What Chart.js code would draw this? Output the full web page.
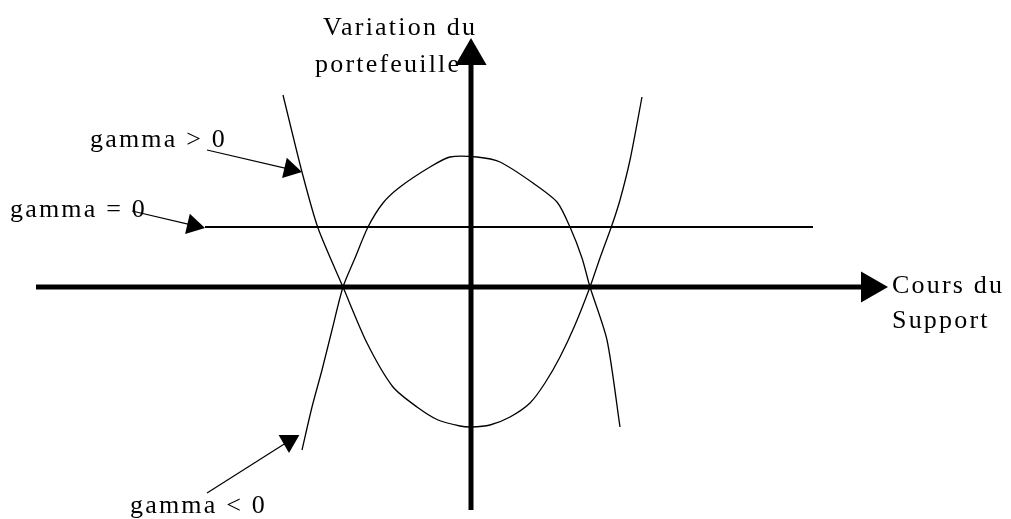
<!DOCTYPE html>
<html>
<head>
<meta charset="utf-8">
<title>Gamma</title>
<script src="https://cdn.jsdelivr.net/npm/chart.js@4.4.0/dist/chart.umd.min.js"></script>
<style>
    html, body { margin: 0; padding: 0; background: #fff; }
    #wrap { width: 1011px; height: 519px; position: relative; }
</style>
</head>
<body>
<div id="wrap"><canvas id="gamma"></canvas></div>
<script>
    "use strict";

    // Data (x = cours du support, y = variation du portefeuille, origin at the axes crossing)
    var posX = [-18.8, -16.9, -15.3, -12.8, -10.4, -7.8, -5.4, -3.3, -1.1, 0, 1.9, 3.9, 5.9, 7.4, 8.9, 10.4, 11.9, 12.9, 14.1, 14.9, 15.9, 17.1];
    var posY = [19.2, 11.5, 5.9, 0, -5.6, -10.0, -12.0, -13.3, -13.9, -14.0, -13.8, -13.0, -11.6, -9.6, -7.0, -3.8, 0, 2.9, 6.2, 8.7, 12.7, 19.0];

    var negX = [-16.9, -15.9, -14.9, -13.9, -12.8, -11.6, -10.3, -8.8, -7.1, -4.1, -2.1, 0.6, 2.9, 6.2, 8.6, 9.9, 11.1, 11.9, 13.6, 14.9];
    var negY = [-16.3, -12.0, -8.3, -4.3, 0, 2.9, 6.0, 8.4, 10.0, 12.0, 13.0, 13.0, 12.5, 10.4, 8.5, 6.0, 2.9, 0, -5.3, -14.0];

    var zeroX = [-26.6, 34.2];
    var zeroY = [6.0, 6.0];

    var axisX = [-43.5, 39.9];
    var axisY = [-22.3, 23.1];

    // label arrows: [start, head]
    var arrowPosX = [-26.4, -18.07];
    var arrowPosY = [13.7, 11.77];
    var arrowZeroX = [-33.9, -27.77];
    var arrowZeroY = [7.6, 6.17];
    var arrowNegX = [-26.4, -18.2];
    var arrowNegY = [-20.6, -15.4];

    var labelTexts = ["Variation du", "portefeuille", "gamma > 0", "gamma = 0", "gamma < 0", "Cours du", "Support"];
    var labelX = [-14.8, -15.6, -38.1, -46.1, -34.1, 42.1, 42.1];
    var labelY = [25.2, 21.5, 14.0, 7.0, -22.6, -0.6, -4.1];

    function pts(xs, ys) {
        return xs.map(function (x, i) { return {x: x, y: ys[i]}; });
    }

    // Text labels
    var labelsPlugin = {
        id: "labels",
        afterDatasetsDraw: function (chart) {
            var ctx = chart.ctx;
            var sx = chart.scales.x, sy = chart.scales.y;
            ctx.save();
            ctx.fillStyle = "#000";
            ctx.font = "26px 'Liberation Serif', 'Times New Roman', serif";
            ctx.letterSpacing = "2.2px";
            ctx.textAlign = "left";
            ctx.textBaseline = "alphabetic";
            labelTexts.forEach(function (t, i) {
                ctx.fillText(t, sx.getPixelForValue(labelX[i]), sy.getPixelForValue(labelY[i]));
            });
            ctx.restore();
        }
    };

    var ctx = document.getElementById("gamma").getContext("2d");
    var myChart = new Chart(ctx, {
        type: "scatter",
        data: {
            datasets: [{
                label: "gamma > 0",
                data: pts(posX, posY),
                showLine: true,
                borderWidth: 1.3,
                tension: 0.25,
                borderColor: "#000",
                pointRadius: 0
            }, {
                label: "gamma < 0",
                data: pts(negX, negY),
                showLine: true,
                borderWidth: 1.3,
                tension: 0.25,
                borderColor: "#000",
                pointRadius: 0
            }, {
                label: "gamma = 0",
                data: pts(zeroX, zeroY),
                showLine: true,
                borderWidth: 2,
                borderColor: "#000",
                pointRadius: 0
            }, {
                label: "Cours du Support",
                data: pts(axisX, [0, 0]),
                showLine: true,
                borderWidth: 5,
                borderColor: "#000",
                backgroundColor: "#000",
                pointStyle: "triangle",
                pointRadius: [0, 18],
                pointRotation: 90,
                pointBorderWidth: 0
            }, {
                label: "Variation du portefeuille",
                data: pts([0, 0], axisY),
                showLine: true,
                borderWidth: 5,
                borderColor: "#000",
                backgroundColor: "#000",
                pointStyle: "triangle",
                pointRadius: [0, 18],
                pointRotation: 0,
                pointBorderWidth: 0
            }, {
                label: "arrow >",
                data: pts(arrowPosX, arrowPosY),
                showLine: true,
                borderWidth: 1.2,
                borderColor: "#000",
                backgroundColor: "#000",
                pointStyle: "triangle",
                pointRadius: [0, 12],
                pointRotation: 103,
                pointBorderWidth: 0
            }, {
                label: "arrow =",
                data: pts(arrowZeroX, arrowZeroY),
                showLine: true,
                borderWidth: 1.2,
                borderColor: "#000",
                backgroundColor: "#000",
                pointStyle: "triangle",
                pointRadius: [0, 12],
                pointRotation: 103,
                pointBorderWidth: 0
            }, {
                label: "arrow <",
                data: pts(arrowNegX, arrowNegY),
                showLine: true,
                borderWidth: 1.2,
                borderColor: "#000",
                backgroundColor: "#000",
                pointStyle: "triangle",
                pointRadius: [0, 12],
                pointRotation: 180,
                pointBorderWidth: 0
            }]
        },
        options: {
            responsive: true,
            maintainAspectRatio: false,
            animation: false,
            layout: {padding: 0, autoPadding: false},
            plugins: {
                legend: {display: false},
                tooltip: {enabled: false}
            },
            scales: {
                x: {type: "linear", min: -47.1, max: 54.0, display: false},
                y: {type: "linear", min: -23.2, max: 28.7, display: false}
            }
        },
        plugins: [labelsPlugin]
    });
</script>
</body>
</html>
